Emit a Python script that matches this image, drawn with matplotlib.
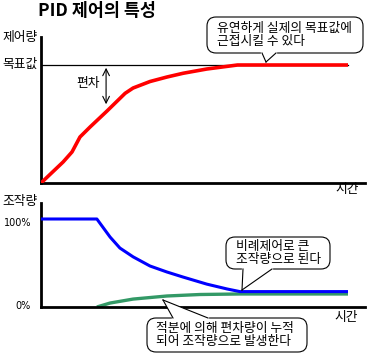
import matplotlib
matplotlib.use("Agg")
import matplotlib.pyplot as plt
from matplotlib.patches import FancyBboxPatch, Polygon
from matplotlib.lines import Line2D

plt.rcParams['font.family'] = ['Noto Sans CJK KR', 'DejaVu Sans']

# ---- data ----
title = "PID 제어의 특성"
top_ylabel = "제어량"
target_label = "목표값"
bottom_ylabel = "조작량"
xlabel = "시간"
pct_labels = ["100%", "0%"]
deviation_label = "편차"
note_top = "유연하게 실제의 목표값에\n근접시킬 수 있다"
note_p = "비례제어로 큰\n조작량으로 된다"
note_i = "적분에 의해 편차량이 누적\n되어 조작량으로 발생한다"

target_value = 1.0
red_t = [0, 7.2, 10.1, 12.7, 16, 21.5, 27.4, 30, 35.5, 41, 46.3, 54, 64, 100]
red_y = [0, 0.178, 0.263, 0.39, 0.475, 0.61, 0.76, 0.805, 0.86, 0.898, 0.93, 0.966, 1.0, 1.0]

blue_t = [0, 18.2, 22.5, 25.7, 30, 35.5, 41, 46.3, 54, 60.6, 64.8, 100]
blue_y = [1, 1, 0.795, 0.67, 0.57, 0.466, 0.398, 0.34, 0.26, 0.205, 0.175, 0.175]

green_t = [18.2, 22.5, 30, 41, 51.8, 64.8, 100]
green_y = [0, 0.045, 0.09, 0.125, 0.142, 0.148, 0.148]

W, H = 368, 357
fig = plt.figure(figsize=(W / 100, H / 100), dpi=100)

def frac(x0, y_top, x1, y_bot):
    return [x0 / W, 1 - y_bot / H, (x1 - x0) / W, (y_bot - y_top) / H]

ax1 = fig.add_axes(frac(41, 37, 365, 183))
ax1.set_xlim(0, (365 - 41) / 3.07)
ax1.set_ylim(0, (183 - 37) / 118)
ax2 = fig.add_axes(frac(41, 203, 365, 307))
ax2.set_xlim(0, (365 - 41) / 3.07)
ax2.set_ylim(0, (307 - 203) / 88)

for ax in (ax1, ax2):
    for s in ("top", "right"):
        ax.spines[s].set_visible(False)
    for s in ("left", "bottom"):
        ax.spines[s].set_linewidth(2.0)
        ax.spines[s].set_color("black")
    ax.set_xticks([])
    ax.set_yticks([])
    ax.patch.set_alpha(0)

ax1.plot([0, red_t[-1]], [target_value, target_value], color="black", lw=0.9, zorder=2)
ax1.plot(red_t, red_y, color="#ff0000", lw=2.6, solid_capstyle="butt", zorder=3)
ax1.annotate("", xy=(21.2, target_value), xytext=(21.2, 0.644),
             arrowprops=dict(arrowstyle="<->", color="black", lw=0.8,
                             mutation_scale=12))

ax2.plot(blue_t, blue_y, color="#0000ff", lw=2.2, solid_capstyle="butt", zorder=3)
ax2.plot(green_t, green_y, color="#339966", lw=2.4, solid_capstyle="butt", zorder=2)

ov = fig.add_axes([0, 0, 1, 1])
ov.set_xlim(0, W)
ov.set_ylim(H, 0)
ov.axis("off")
ov.patch.set_alpha(0)

fs = 9.2
ov.text(38, 11, title, fontsize=12.5, fontweight="bold", ha="left", va="center")
ov.text(2, 37, top_ylabel, fontsize=fs, ha="left", va="center")
ov.text(2, 64, target_label, fontsize=fs, ha="left", va="center")
ov.text(76, 84, deviation_label, fontsize=fs, ha="left", va="center")
ov.text(335, 189, xlabel, fontsize=fs, ha="left", va="center")
ov.text(2, 202, bottom_ylabel, fontsize=fs, ha="left", va="center")
ov.text(31, 223, pct_labels[0], fontsize=7, ha="right", va="center", family="DejaVu Sans")
ov.text(31, 306, pct_labels[1], fontsize=7, ha="right", va="center", family="DejaVu Sans")
ov.text(334, 317, xlabel, fontsize=fs, ha="left", va="center")

def bubble(x0, y0, x1, y1, base_a, base_b, tip, text, tx):
    box = FancyBboxPatch((x0, y0), x1 - x0, y1 - y0,
                         boxstyle="round,pad=0,rounding_size=9",
                         facecolor="white", edgecolor="black", lw=0.8, zorder=5)
    ov.add_patch(box)
    poly = Polygon([base_a, tip, base_b], closed=True, facecolor="white",
                   edgecolor="none", zorder=6)
    ov.add_patch(poly)
    ov.add_line(Line2D([base_a[0], base_b[0]], [base_a[1], base_b[1]],
                       color="white", lw=1.6, zorder=6))
    ov.add_line(Line2D([base_a[0], tip[0]], [base_a[1], tip[1]],
                       color="black", lw=0.8, zorder=7))
    ov.add_line(Line2D([base_b[0], tip[0]], [base_b[1], tip[1]],
                       color="black", lw=0.8, zorder=7))
    ov.text(tx, (y0 + y1) / 2, text, fontsize=fs, ha="left", va="center",
            linespacing=1.0, zorder=8)

bubble(207, 17, 363, 53, (262, 53), (276, 53), (266, 62), note_top, 217)
bubble(226, 237, 330, 269, (243, 269), (272, 269), (242, 290), note_p, 236)
bubble(147, 318, 307, 352, (173, 318), (208, 318), (163, 300), note_i, 156)

fig.savefig("out.png", dpi=100)
